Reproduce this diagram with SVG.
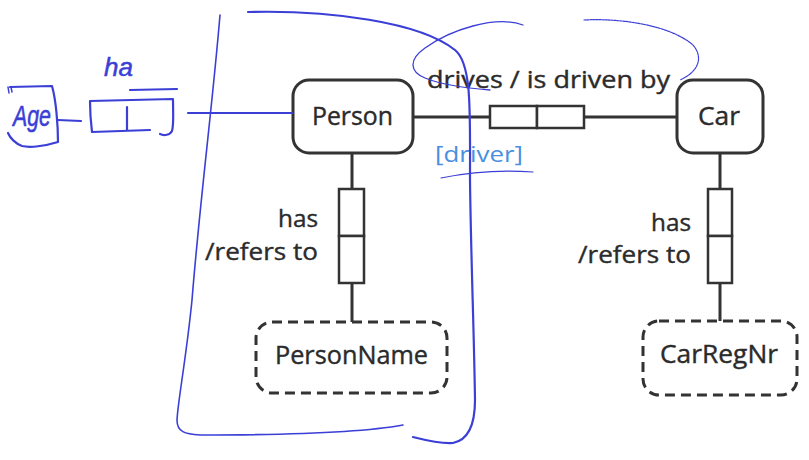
<svg xmlns="http://www.w3.org/2000/svg" width="809" height="460" viewBox="0 0 809 460">
<style>
.ent{fill:#fff;stroke:#333;stroke-width:3}
.val{fill:#fff;stroke:#333;stroke-width:3;stroke-dasharray:10 6}
.role{fill:#fff;stroke:#333;stroke-width:2.5}
.ln{stroke:#333;stroke-width:3;fill:none}
.t{font-family:"Open Sans","Liberation Sans",sans-serif;fill:#2b2b2b;stroke:#2b2b2b;stroke-width:0.4}
.ink{stroke:#3b3fd6;fill:none;stroke-linecap:round;stroke-linejoin:round}
.inkt{font-family:"Liberation Sans",sans-serif;fill:#3b3fd6;font-style:italic}
</style>
<rect width="809" height="460" fill="#fff"/>
<g id="connectors">
<line class="ln" x1="413" y1="117" x2="490" y2="117"/>
<line class="ln" x1="584" y1="117" x2="677" y2="117"/>
<line class="ln" x1="352" y1="153" x2="352" y2="189"/>
<line class="ln" x1="352" y1="283" x2="352" y2="322"/>
<line class="ln" x1="720" y1="153" x2="720" y2="189"/>
<line class="ln" x1="720" y1="283" x2="720" y2="321"/>
</g>
<g id="fact-drives">
<rect class="role" x="490" y="106" width="47" height="22"/>
<rect class="role" x="537" y="106" width="47" height="22"/>
<text class="t" x="427" y="88" font-size="24" textLength="243" lengthAdjust="spacingAndGlyphs">drives / is driven by</text>
<text x="435" y="162" font-size="22" font-family="Open Sans, Liberation Sans, sans-serif" fill="#4a8fe0" textLength="88" lengthAdjust="spacingAndGlyphs">[driver]</text>
</g>
<g id="fact-personname">
<rect class="role" x="339" y="189" width="25" height="47"/>
<rect class="role" x="339" y="236" width="25" height="47"/>
<text class="t" x="318" y="227" font-size="24" text-anchor="end" textLength="40" lengthAdjust="spacingAndGlyphs">has</text>
<text class="t" x="318" y="260" font-size="24" text-anchor="end" textLength="113" lengthAdjust="spacingAndGlyphs">/refers to</text>
</g>
<g id="fact-carregnr">
<rect class="role" x="708" y="189" width="24" height="47"/>
<rect class="role" x="708" y="236" width="24" height="47"/>
<text class="t" x="691" y="231" font-size="24" text-anchor="end" textLength="40" lengthAdjust="spacingAndGlyphs">has</text>
<text class="t" x="691" y="263" font-size="24" text-anchor="end" textLength="113" lengthAdjust="spacingAndGlyphs">/refers to</text>
</g>
<g id="person">
<rect class="ent" x="293" y="80" width="120" height="73" rx="16"/>
<text class="t" x="312" y="125" font-size="25" textLength="81" lengthAdjust="spacingAndGlyphs">Person</text>
</g>
<g id="car">
<rect class="ent" x="677" y="80" width="86" height="73" rx="16"/>
<text class="t" x="698" y="125" font-size="25" textLength="42" lengthAdjust="spacingAndGlyphs">Car</text>
</g>
<g id="personname">
<rect class="val" x="256" y="322" width="191" height="71" rx="16"/>
<text class="t" x="275" y="364" font-size="25" textLength="153" lengthAdjust="spacingAndGlyphs">PersonName</text>
</g>
<g id="carregnr">
<rect class="val" x="643" y="321" width="154" height="74" rx="16"/>
<text class="t" x="660" y="363" font-size="25" textLength="118" lengthAdjust="spacingAndGlyphs">CarRegNr</text>
</g>
<g id="annotations">
<path class="ink" stroke-width="2.2" d="M248 12 C 330 10, 420 22, 455 50 C 472 64, 470 110, 470 180 C 471 260, 474 330, 475 400 C 475 425, 468 440, 453 443 C 440 444, 425 440, 413 437"/>
<path class="ink" stroke-width="1.6" d="M220 15 C 212 110, 200 200, 192 300 C 186 360, 178 400, 177 420 C 177 432, 185 434, 200 435 C 280 435, 360 433, 403 425"/>
<path class="ink" stroke-width="1.3" d="M523 25 C 495 15, 450 30, 425 48 C 408 60, 410 72, 425 78 C 440 84, 465 88, 490 90"/>
<path class="ink" stroke-width="1.2" stroke-dasharray="2 1" d="M584 20 C 620 18, 670 25, 693 45 C 704 58, 698 72, 680 80"/>
<path class="ink" stroke-width="1.2" d="M441 178 C 470 172, 505 170, 533 172"/>
<path class="ink" stroke-width="2.2" d="M188 113 L 292 113"/>
<path class="ink" stroke-width="2.2" d="M10 87 L 52 86 C 56 100, 58 125, 58 142 C 45 146, 30 148, 22 146 C 16 144, 10 138, 8 133"/>
<path class="ink" stroke-width="1.5" d="M8 87 L 9 93 M11 87 L 12 92"/>
<path class="ink" stroke-width="2.2" d="M58 120 L 81 121"/>
<path class="ink" stroke-width="2.2" d="M90 101 L 173 99 M90 101 C 90 112, 91 124, 92 132 L 150 130 M127 107 L 127 130 M173 100 C 173 112, 174 124, 172 131 C 170 135, 164 136, 160 134 M130 90 L 177 89"/>
<text class="inkt" x="13" y="126" font-size="30" textLength="38" lengthAdjust="spacingAndGlyphs" stroke="#3b3fd6" stroke-width="0.6">Age</text>
<text class="inkt" x="104" y="76" font-size="26" stroke="#3b3fd6" stroke-width="0.5">ha</text>
</g>
</svg>
